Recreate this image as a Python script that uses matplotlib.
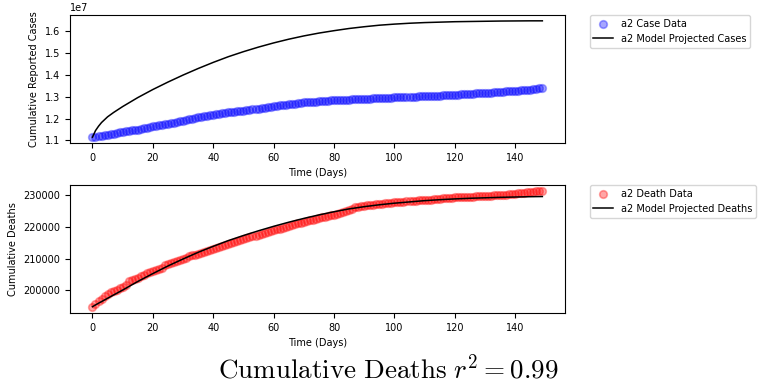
import numpy as np
import matplotlib
matplotlib.use("Agg")
import matplotlib.pyplot as plt

# day index for the observed data
days = list(range(150))

# cumulative reported cases (millions)
case_data_m = [
    11.15, 11.18, 11.20, 11.22, 11.24, 11.26, 11.29, 11.31, 11.34, 11.37,
    11.40, 11.42, 11.44, 11.46, 11.48, 11.50, 11.52, 11.55, 11.58, 11.61,
    11.64, 11.66, 11.69, 11.71, 11.74, 11.76, 11.79, 11.82, 11.85, 11.88,
    11.91, 11.93, 11.96, 11.99, 12.02, 12.05, 12.08, 12.11, 12.14, 12.16,
    12.18, 12.20, 12.22, 12.24, 12.26, 12.28, 12.30, 12.32, 12.34, 12.35,
    12.36, 12.38, 12.40, 12.42, 12.44, 12.46, 12.48, 12.50, 12.52, 12.54,
    12.56, 12.58, 12.60, 12.61, 12.63, 12.65, 12.66, 12.68, 12.70, 12.72,
    12.74, 12.75, 12.76, 12.77, 12.78, 12.79, 12.80, 12.81, 12.82, 12.83,
    12.83, 12.84, 12.85, 12.86, 12.86, 12.87, 12.88, 12.89, 12.89, 12.90,
    12.90, 12.91, 12.91, 12.92, 12.93, 12.93, 12.94, 12.94, 12.95, 12.96,
    12.97, 12.97, 12.98, 12.98, 12.99, 13.00, 13.00, 13.01, 13.02, 13.02,
    13.03, 13.03, 13.04, 13.04, 13.05, 13.05, 13.06, 13.07, 13.07, 13.08,
    13.09, 13.10, 13.11, 13.11, 13.12, 13.13, 13.14, 13.15, 13.16, 13.16,
    13.17, 13.18, 13.19, 13.20, 13.21, 13.22, 13.23, 13.24, 13.25, 13.26,
    13.27, 13.28, 13.29, 13.31, 13.32, 13.33, 13.35, 13.37, 13.39, 13.42,
]

# model projection of cases (millions)
model_days = [0, 1, 2, 3, 5, 7, 10, 15, 20, 25, 30, 35, 40, 45, 50, 55, 60, 65,
              70, 75, 80, 85, 90, 95, 100, 105, 110, 115, 120, 125, 130, 135,
              140, 145, 149]
case_model_m = [11.15, 11.45, 11.65, 11.82, 12.08, 12.28, 12.55, 12.96, 13.33,
                13.67, 13.99, 14.29, 14.57, 14.83, 15.06, 15.27, 15.46, 15.63,
                15.78, 15.91, 16.02, 16.12, 16.20, 16.27, 16.32, 16.36, 16.39,
                16.41, 16.43, 16.44, 16.45, 16.46, 16.465, 16.47, 16.47]

# cumulative deaths
death_data = [
    194700, 195600, 196500, 197300, 198200, 199000, 199400, 199700, 200100, 200600,
    201200, 201800, 203000, 203400, 203600, 203900, 204400, 204900, 205400, 205800,
    206200, 206500, 206800, 207200, 208000, 208400, 208700, 209000, 209300, 209600,
    209900, 210300, 210700, 211000, 211300, 211600, 211900, 212200, 212500, 212800,
    213000, 213300, 213600, 213900, 214300, 214600, 214900, 215200, 215500, 215800,
    216100, 216400, 216700, 217000, 217300, 217600, 217900, 218200, 218500, 218800,
    219000, 219300, 219500, 219800, 220000, 220300, 220600, 220800, 221100, 221300,
    221600, 221800, 222100, 222300, 222600, 222800, 223000, 223300, 223500, 223700,
    223900, 224200, 224400, 224600, 224900, 225200, 225700, 226300, 226400, 226600,
    226700, 226800, 226900, 227000, 227100, 227200, 227400, 227500, 227600, 227700,
    227800, 227900, 228000, 228000, 228100, 228200, 228200, 228300, 228400, 228400,
    228500, 228500, 228600, 228700, 228800, 228900, 229000, 229100, 229200, 229250,
    229300, 229350, 229400, 229450, 229500, 229550, 229600, 229650, 229700, 229750,
    229800, 229850, 229900, 229950, 230000, 230050, 230100, 230200, 230300, 230400,
    230500, 230600, 230700, 230800, 230900, 231000, 231100, 231200, 231300, 231400,
]

death_model = [194850, 195400, 195950, 196450, 197500, 198550, 200100, 202800,
               205300, 207700, 209900, 212000, 213900, 215700, 217300, 218800,
               220200, 221500, 222700, 223800, 224800, 225700, 226400, 227000,
               227500, 227900, 228300, 228600, 228850, 229050, 229200, 229350,
               229450, 229550, 229600]

case_data = np.array(case_data_m) * 1e6
case_model = np.array(case_model_m) * 1e6

plt.rcParams["font.size"] = 7
plt.rcParams["mathtext.fontset"] = "cm"

fig = plt.figure(figsize=(7.59, 3.89), dpi=100)
ax1 = fig.add_axes([0.0922, 0.6324, 0.652, 0.329])
ax2 = fig.add_axes([0.0922, 0.1954, 0.652, 0.329])

ax1.scatter(days, case_data, s=30, color="blue", alpha=0.35, linewidths=1.2,
            label="a2 Case Data")
ax1.plot(model_days, case_model, color="black", lw=1.1,
         label="a2 Model Projected Cases")
ax1.set_xlabel("Time (Days)")
ax1.set_ylabel("Cumulative Reported Cases")
ax1.legend(loc="upper left", bbox_to_anchor=(1.05, 1.0), borderaxespad=0)

ax2.scatter(days, death_data, s=30, color="red", alpha=0.35, linewidths=1.2,
            label="a2 Death Data")
ax2.plot(model_days, death_model, color="black", lw=1.1,
         label="a2 Model Projected Deaths")
ax2.set_xlabel("Time (Days)")
ax2.set_ylabel("Cumulative Deaths")
ax2.legend(loc="upper left", bbox_to_anchor=(1.05, 1.0), borderaxespad=0)

fig.text(0.511, 0.052, r"$\mathrm{Cumulative\ Deaths}\ r^2 = 0.99$",
         ha="center", va="center", fontsize=19.5)

fig.savefig("out.png", dpi=100)
